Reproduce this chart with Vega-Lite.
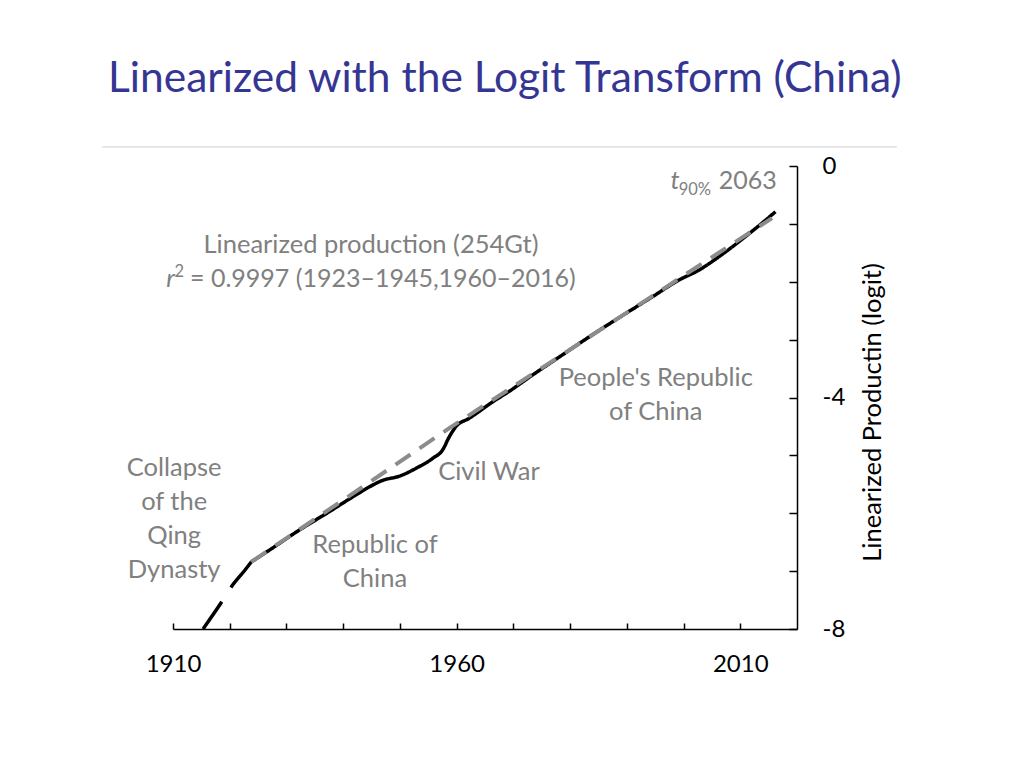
{
  "$schema": "https://vega.github.io/schema/vega-lite/v6.json",
  "width": 624,
  "height": 463,
  "autosize": {"type": "none"},
  "padding": {"left": 173, "top": 166, "right": 227, "bottom": 139},
  "background": "white",
  "title": {
    "text": "Linearized with the Logit Transform (China)",
    "anchor": "start",
    "frame": "group",
    "dx": -65,
    "offset": 12,
    "baseline": "alphabetic",
    "font": "Lato",
    "fontSize": 42.5,
    "fontWeight": "normal",
    "color": "#353594"
  },
  "config": {
    "view": {"stroke": null},
    "font": "Lato",
    "axis": {
      "grid": false,
      "domainColor": "#000000",
      "domainWidth": 1.5,
      "tickColor": "#000000",
      "tickWidth": 1.5,
      "labelFont": "Lato",
      "labelFontSize": 24,
      "labelColor": "#000000",
      "labelFlush": false,
      "titleFont": "Lato",
      "titleFontWeight": "normal",
      "titleColor": "#000000"
    }
  },
  "datasets": {
    "china": [
      {"year": 1915.3, "logit": -8.0, "part": "early"},
      {"year": 1918.6, "logit": -7.53, "part": "early"},
      {"year": 1920.3, "logit": -7.27, "part": "early"},
      {"year": 1922.7, "logit": -6.98, "part": "early"},
      {"year": 1923.8, "logit": -6.84, "part": "early"},
      {"year": 1923.8, "logit": -6.84, "part": "main"},
      {"year": 1927.1, "logit": -6.63, "part": "main"},
      {"year": 1931.8, "logit": -6.32, "part": "main"},
      {"year": 1937.6, "logit": -5.97, "part": "main"},
      {"year": 1942.3, "logit": -5.68, "part": "main"},
      {"year": 1944.7, "logit": -5.54, "part": "main"},
      {"year": 1947.0, "logit": -5.43, "part": "main"},
      {"year": 1949.9, "logit": -5.36, "part": "main"},
      {"year": 1952.9, "logit": -5.22, "part": "main"},
      {"year": 1955.8, "logit": -5.05, "part": "main"},
      {"year": 1957.5, "logit": -4.91, "part": "main"},
      {"year": 1958.7, "logit": -4.68, "part": "main"},
      {"year": 1959.9, "logit": -4.5, "part": "main"},
      {"year": 1962.2, "logit": -4.36, "part": "main"},
      {"year": 1966.9, "logit": -4.04, "part": "main"},
      {"year": 1968.7, "logit": -3.93, "part": "main"},
      {"year": 1973.4, "logit": -3.61, "part": "main"},
      {"year": 1978.1, "logit": -3.3, "part": "main"},
      {"year": 1983.4, "logit": -2.95, "part": "main"},
      {"year": 1988.0, "logit": -2.66, "part": "main"},
      {"year": 1994.5, "logit": -2.26, "part": "main"},
      {"year": 1999.2, "logit": -1.97, "part": "main"},
      {"year": 2002.7, "logit": -1.8, "part": "main"},
      {"year": 2006.2, "logit": -1.57, "part": "main"},
      {"year": 2010.9, "logit": -1.22, "part": "main"},
      {"year": 2013.8, "logit": -0.99, "part": "main"},
      {"year": 2016.2, "logit": -0.79, "part": "main"}
    ],
    "fit": [
      {"year": 1923.8, "logit": -6.84},
      {"year": 1943.5, "logit": -5.54},
      {"year": 1958.7, "logit": -4.53},
      {"year": 2015.6, "logit": -0.9}
    ],
    "separator": [
      {"year": 1897.5, "year2": 2037.6, "logit": 0.33}
    ],
    "notes": [
      {"year": 1944.9, "logit": -1.365, "label": "Linearized production (254Gt)"},
      {"year": 1910.2, "logit": -5.215, "label": "Collapse\nof the\nQing\nDynasty"},
      {"year": 1945.6, "logit": -6.55, "label": "Republic of\nChina"},
      {"year": 1965.7, "logit": -5.28, "label": "Civil War"},
      {"year": 1995.1, "logit": -3.66, "label": "People's Republic\nof China"}
    ],
    "notesLeft": [
      {"year": 1913.0, "logit": -1.95, "label": "= 0.9997 (1923–1945,1960–2016)"},
      {"year": 2006.2, "logit": -0.26, "label": "2063"}
    ],
    "italic": [
      {"year": 1998.5, "logit": -0.26, "label": "t"},
      {"year": 1909.6, "logit": -1.95, "label": "r"}
    ],
    "small": [
      {"year": 2002.0, "logit": -0.42, "label": "90%"},
      {"year": 1911.1, "logit": -1.83, "label": "2"}
    ]
  },
  "encoding": {
    "x": {
      "field": "year",
      "type": "quantitative",
      "scale": {"domain": [1910, 2020], "nice": false, "zero": false},
      "axis": {
        "title": null,
        "values": [1910, 1920, 1930, 1940, 1950, 1960, 1970, 1980, 1990, 2000, 2010],
        "format": "d",
        "labelExpr": "datum.value == 1910 || datum.value == 1960 || datum.value == 2010 ? datum.label : ''",
        "tickSize": -6,
        "labelPadding": 29
      }
    },
    "y": {
      "field": "logit",
      "type": "quantitative",
      "scale": {"domain": [-8, 0], "nice": false, "zero": false},
      "axis": {
        "orient": "right",
        "title": "Linearized Productin (logit)",
        "titleFontSize": 25.5,
        "titleAngle": -90,
        "titleY": 246,
        "titlePadding": 41,
        "values": [-8, -7, -6, -5, -4, -3, -2, -1, 0],
        "labelExpr": "datum.value % 4 == 0 ? '' + datum.value : ''",
        "tickSize": -8,
        "labelPadding": 33
      }
    }
  },
  "layer": [
    {
      "data": {"name": "separator"},
      "mark": {"type": "rule", "color": "#d0d0d0", "strokeWidth": 1},
      "encoding": {"x2": {"field": "year2"}}
    },
    {
      "data": {"name": "china"},
      "mark": {"type": "line", "color": "#000000", "strokeWidth": 3.5, "interpolate": "monotone"},
      "encoding": {
        "strokeDash": {
          "field": "part",
          "type": "nominal",
          "scale": {"domain": ["early", "main"], "range": [[33, 17], [1, 0]]},
          "legend": null
        }
      }
    },
    {
      "data": {"name": "fit"},
      "mark": {"type": "line", "color": "#8c8c8c", "strokeWidth": 4, "strokeDash": [18, 11]},
      "encoding": {}
    },
    {
      "data": {"name": "notes"},
      "mark": {"type": "text", "font": "Lato", "fontSize": 25.5, "color": "#808080", "align": "center", "baseline": "middle", "lineBreak": "\n", "lineHeight": 34},
      "encoding": {"text": {"field": "label"}}
    },
    {
      "data": {"name": "notesLeft"},
      "mark": {"type": "text", "font": "Lato", "fontSize": 25, "color": "#808080", "align": "left", "baseline": "middle"},
      "encoding": {"text": {"field": "label"}}
    },
    {
      "data": {"name": "italic"},
      "mark": {"type": "text", "font": "Lato", "fontSize": 25.5, "fontStyle": "italic", "color": "#808080", "align": "center", "baseline": "middle"},
      "encoding": {"text": {"field": "label"}}
    },
    {
      "data": {"name": "small"},
      "mark": {"type": "text", "font": "Lato", "fontSize": 16.5, "color": "#808080", "align": "center", "baseline": "middle"},
      "encoding": {"text": {"field": "label"}}
    }
  ]
}
